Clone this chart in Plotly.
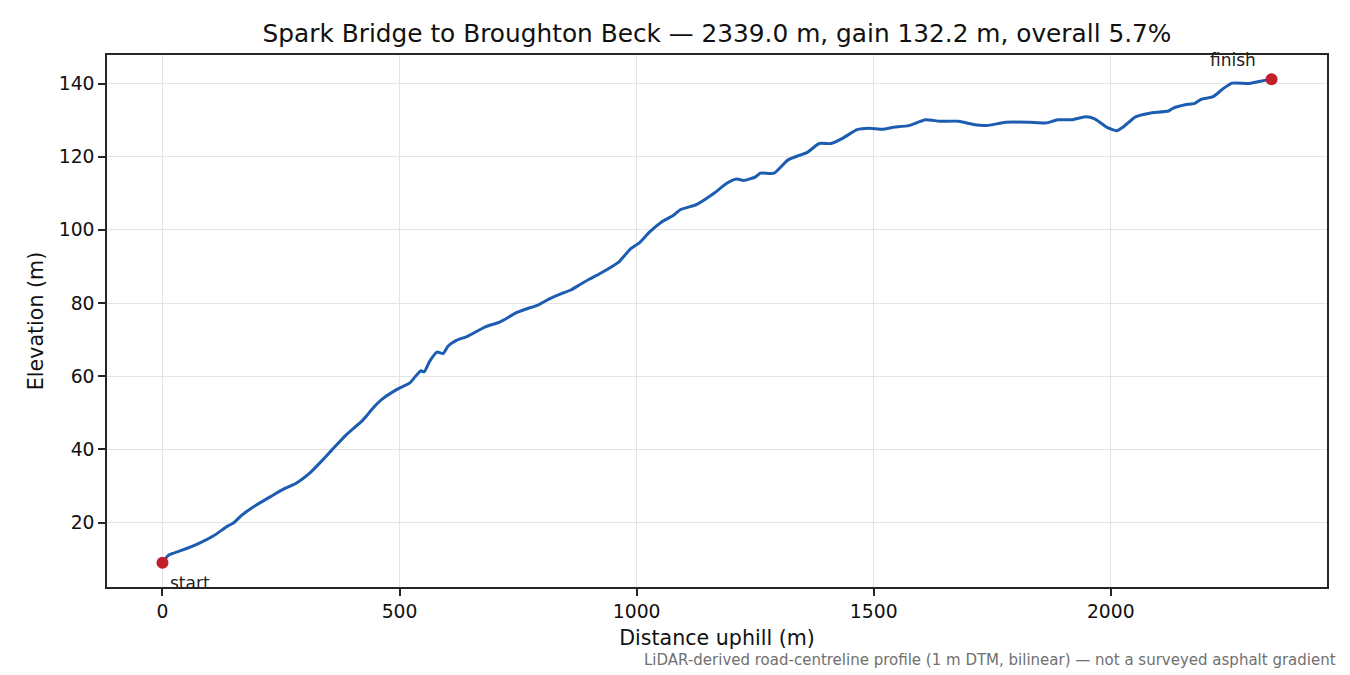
import plotly.graph_objects as go

# distance along road (m) and elevation (m)
distance = [0, 10, 14, 40, 78, 108, 138, 149, 168, 198, 228, 259, 281, 311, 334,
            357, 387, 421, 432, 440, 462, 492, 522, 530, 545, 552, 564, 579, 592,
            602, 620, 643, 681, 711, 749, 794, 817, 840, 860, 880, 900, 922, 962,
            987, 1007, 1027, 1052, 1077, 1092, 1126, 1161, 1191, 1211, 1226, 1251,
            1261, 1290, 1320, 1360, 1385, 1410, 1435, 1465, 1490, 1519, 1539, 1574,
            1609, 1639, 1679, 1708, 1738, 1778, 1828, 1863, 1888, 1917, 1947, 1967,
            1992, 2012, 2027, 2052, 2082, 2122, 2132, 2157, 2177, 2191, 2216, 2236,
            2256, 2290, 2310, 2339]
elevation = [9.0, 10.7, 11.2, 12.4, 14.4, 16.4, 19.1, 19.8, 22.1, 24.8, 27.1, 29.4,
             30.7, 33.6, 36.6, 39.8, 43.9, 47.8, 49.4, 50.7, 53.6, 56.2, 58.2, 59.4,
             61.5, 61.2, 64.2, 66.6, 66.2, 68.2, 69.8, 70.9, 73.5, 74.8, 77.5, 79.6,
             81.2, 82.5, 83.5, 85.0, 86.5, 88.0, 91.2, 94.8, 96.6, 99.4, 102.1, 103.9,
             105.5, 106.9, 109.8, 112.8, 113.9, 113.5, 114.5, 115.5, 115.5, 119.2,
             121.2, 123.6, 123.6, 125.1, 127.4, 127.8, 127.5, 128.0, 128.5, 130.1,
             129.7, 129.7, 128.9, 128.5, 129.4, 129.4, 129.2, 130.1, 130.1, 130.9,
             130.3, 128.0, 127.1, 128.2, 130.9, 131.9, 132.5, 133.3, 134.2, 134.6,
             135.7, 136.4, 138.5, 140.1, 140.0, 140.5, 141.2]

x_ticks = [0, 500, 1000, 1500, 2000]
y_ticks = [20, 40, 60, 80, 100, 120, 140]

title = "Spark Bridge to Broughton Beck — 2339.0 m, gain 132.2 m, overall 5.7%"
note = "LiDAR-derived road-centreline profile (1 m DTM, bilinear) — not a surveyed asphalt gradient"

FONT = "DejaVu Sans"

fig = go.Figure()
fig.add_trace(go.Scatter(
    x=distance, y=elevation, mode="lines",
    line=dict(color="#1c5db2", width=3, shape="spline", smoothing=0.5),
    hoverinfo="x+y", showlegend=False,
))
fig.add_trace(go.Scatter(
    x=[distance[0], distance[-1]], y=[elevation[0], elevation[-1]],
    mode="markers", marker=dict(color="#c21f2a", size=12),
    showlegend=False,
))

fig.add_annotation(x=distance[0], y=elevation[0], text="start", showarrow=False,
                   xanchor="left", yanchor="top", xshift=6, yshift=-8,
                   font=dict(family=FONT, size=17, color="#222"))
fig.add_annotation(x=distance[-1], y=elevation[-1], text="finish", showarrow=False,
                   xanchor="right", yanchor="bottom", xshift=-14, yshift=7,
                   font=dict(family=FONT, size=17, color="#222"))
fig.add_annotation(x=1.0, xref="paper", xanchor="right", xshift=11,
                   y=0, yref="paper", yanchor="middle", yshift=-73,
                   text=note, showarrow=False,
                   font=dict(family=FONT, size=15, color="#707070"))

axis_common = dict(
    showline=True, linecolor="#262626", linewidth=1.5, mirror=True,
    ticks="outside", ticklen=7, tickwidth=1.5, tickcolor="#262626",
    showgrid=True, gridcolor="#e4e4e4", gridwidth=1, zeroline=False,
    tickfont=dict(family=FONT, size=18.75, color="#111"),
)

fig.update_layout(
    width=1350, height=675,
    paper_bgcolor="white", plot_bgcolor="white",
    margin=dict(l=107, r=23, t=55, b=88),
    title=dict(text=title, xref="paper", x=0.5, xanchor="center", y=1 - 33 / 675,
               yanchor="middle", font=dict(family=FONT, size=24.8, color="#111")),
    xaxis=dict(axis_common, range=[-117, 2456], tickvals=x_ticks,
               title=dict(text="Distance uphill (m)", standoff=9,
                          font=dict(family=FONT, size=20.6, color="#111"))),
    yaxis=dict(axis_common, range=[2.39, 147.8], tickvals=y_ticks,
               title=dict(text="Elevation (m)", standoff=9,
                          font=dict(family=FONT, size=20.6, color="#111"))),
)

fig.write_html("out.html", config={"displayModeBar": False},
               post_script="document.body.style.margin='0';")
